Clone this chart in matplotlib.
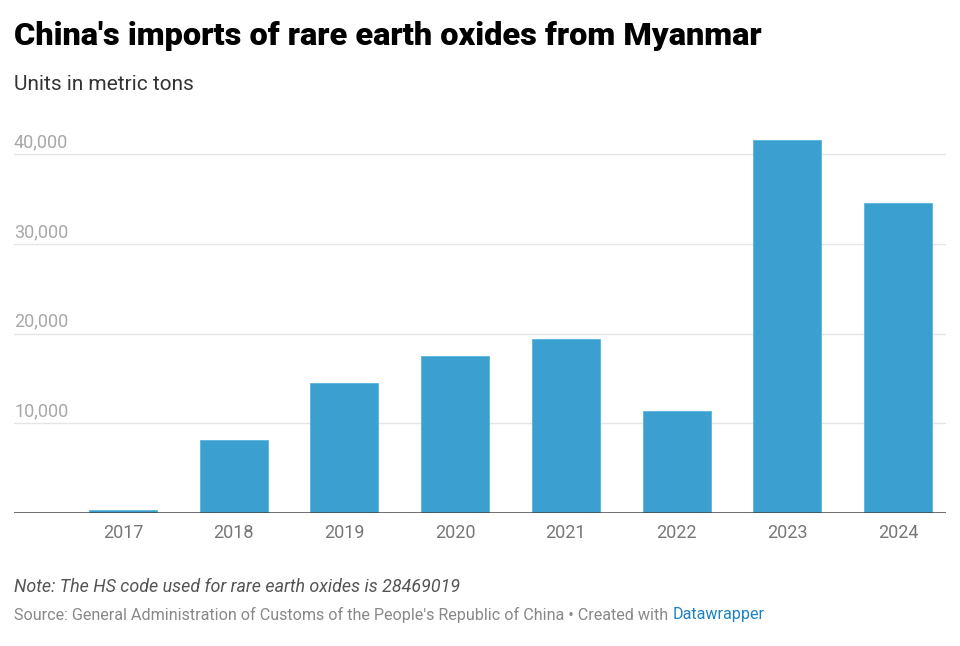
import matplotlib
matplotlib.use("Agg")
import matplotlib.pyplot as plt
import matplotlib.transforms as mtransforms

plt.rcParams['font.family'] = ['Roboto', 'DejaVu Sans']

years = ['2017', '2018', '2019', '2020', '2021', '2022', '2023', '2024']
imports = [300, 8100, 14500, 17500, 19400, 11350, 41550, 34500]
yticks = [10000, 20000, 30000, 40000]

W, H = 960, 646
fig = plt.figure(figsize=(W / 100, H / 100), dpi=100)

# axes placed in pixel terms
ax_left, ax_right, ax_bottom = 14, 946, 513
ymax = 42000
px_per_unit = (513 - 154) / 40000
ax_h = ymax * px_per_unit
ax = fig.add_axes([ax_left / W, 1 - ax_bottom / H, (ax_right - ax_left) / W, ax_h / H])

x = list(range(len(years)))
ax.bar(x, imports, width=0.614, color='#3ba0d0', edgecolor='#5ab4de', linewidth=0.6, zorder=3)

ax.set_xlim(-0.985, 7.434)
ax.set_ylim(0, ymax)

for t in yticks:
    ax.axhline(t, color='#e5e5e5', lw=1, zorder=1)
ax.axhline(0, color='#444444', lw=1.8, zorder=4)

# y labels sit above the gridlines, Datawrapper style
trans = mtransforms.blended_transform_factory(ax.transAxes, ax.transData)
for t in yticks:
    ax.text(0, t + 300, f'{t:,}', transform=trans, ha='left', va='bottom',
            fontsize=13, color='#a8a8a8')

for s in ax.spines.values():
    s.set_visible(False)
ax.set_yticks([])
ax.set_xticks(x)
ax.set_xticklabels(years, fontsize=13, color='#777777')
ax.tick_params(axis='x', length=0, pad=8)

fig.text(14 / W, 1 - 36 / H, "China's imports of rare earth oxides from Myanmar",
         fontsize=23.4, fontweight='heavy', color='#000000', va='center', ha='left')
fig.text(14 / W, 1 - 84 / H, 'Units in metric tons', fontsize=15, color='#333333',
         va='center', ha='left')
fig.text(14 / W, 1 - 587 / H, 'Note: The HS code used for rare earth oxides is 28469019',
         fontsize=12.9, style='italic', color='#555555', va='center', ha='left')
src = fig.text(14 / W, 1 - 615 / H,
               "Source: General Administration of Customs of the People's Republic of China \u2022 Created with ",
               fontsize=11.6, color='#888888', va='center', ha='left')
fig.canvas.draw()
bb = src.get_window_extent()
fig.text(bb.x1 / W, 1 - 615 / H, 'Datawrapper', fontsize=11.6, color='#1d81c4',
         va='center', ha='left')

fig.savefig('out.png', dpi=100)
